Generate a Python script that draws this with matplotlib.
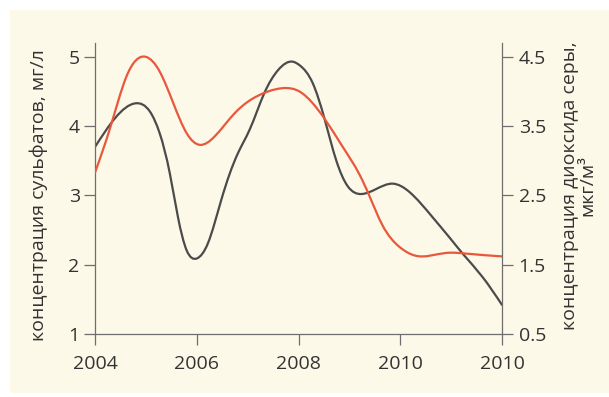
import matplotlib
matplotlib.use("Agg")
import numpy as np
import matplotlib.pyplot as plt
from matplotlib.path import Path
from matplotlib.patches import PathPatch, Rectangle

plt.rcParams['font.family'] = ['Open Sans', 'DejaVu Sans']

# Sulfate concentration in water, mg/L (left axis)
sulfate_years = [2004.0, 2004.8, 2005.08, 2005.27, 2005.47, 2005.63, 2005.8,
                 2006.0, 2006.22, 2006.48, 2006.81, 2007.04, 2007.33, 2007.6, 2007.89,
                 2008.02, 2008.28, 2008.51, 2008.74, 2008.97, 2009.23, 2009.52, 2009.85,
                 2010.18, 2010.63, 2010.96, 2011.25, 2011.62, 2012.0]
sulfate_values = [3.70, 4.33, 4.21, 3.90, 3.32, 2.69, 2.21,
                  2.09, 2.31, 2.93, 3.61, 3.95, 4.48, 4.81, 4.93,
                  4.88, 4.62, 4.11, 3.51, 3.13, 3.02, 3.09, 3.17,
                  3.05, 2.69, 2.40, 2.14, 1.82, 1.42]

# Sulfur dioxide concentration in air, ug/m3 (right axis)
so2_years = [2004.0, 2004.3, 2004.62, 2005.0, 2005.27, 2005.54, 2005.8, 2006.06,
             2006.35, 2006.75, 2007.0, 2007.4, 2007.73, 2008.02, 2008.28, 2008.51,
             2008.87, 2009.2, 2009.39, 2009.65, 2009.98, 2010.3, 2010.9, 2011.3, 2012.0]
so2_values = [2.83, 3.48, 4.22, 4.50, 4.29, 3.83, 3.40, 3.23,
              3.35, 3.69, 3.85, 4.00, 4.05, 4.00, 3.83, 3.61,
              3.20, 2.80, 2.50, 2.07, 1.76, 1.63, 1.67, 1.66, 1.62]

x_ticks = [2004, 2006, 2008, 2010, 2012]
x_tick_labels = ['2004', '2006', '2008', '2010', '2010']
left_ticks = [1, 2, 3, 4, 5]
right_ticks = [0.5, 1.5, 2.5, 3.5, 4.5]
right_tick_labels = ['0.5', '1.5', '2.5', '3.5', '4.5']

PANEL = '#fcf9e8'
AXIS = '#6e6e6e'
TEXT = '#333333'
DARK = '#4b4b4b'
RED = '#e9573c'


def smooth_path(xs, ys):
    """Natural cubic spline y(x) through the points, written as Bezier segments."""
    x = np.asarray(xs, float)
    y = np.asarray(ys, float)
    n = len(x)
    h = np.diff(x)
    d = np.diff(y) / h
    # second derivatives with natural end conditions
    A = np.zeros((n, n))
    r = np.zeros(n)
    A[0, 0] = A[-1, -1] = 1.0
    for i in range(1, n - 1):
        A[i, i - 1] = h[i - 1]
        A[i, i] = 2.0 * (h[i - 1] + h[i])
        A[i, i + 1] = h[i]
        r[i] = 6.0 * (d[i] - d[i - 1])
    M = np.linalg.solve(A, r)
    verts = [(x[0], y[0])]
    codes = [Path.MOVETO]
    for i in range(n - 1):
        s0 = d[i] - h[i] * (2 * M[i] + M[i + 1]) / 6.0
        s1 = d[i] + h[i] * (M[i] + 2 * M[i + 1]) / 6.0
        verts += [(x[i] + h[i] / 3.0, y[i] + s0 * h[i] / 3.0),
                  (x[i + 1] - h[i] / 3.0, y[i + 1] - s1 * h[i] / 3.0),
                  (x[i + 1], y[i + 1])]
        codes += [Path.CURVE4] * 3
    return Path(verts, codes)


fig = plt.figure(figsize=(6.09, 3.97), dpi=100, facecolor='white')
fig.patches.append(Rectangle((10 / 609, 4 / 397), 599 / 609, 383 / 397,
                             transform=fig.transFigure, facecolor=PANEL,
                             edgecolor='none', zorder=-10))

ax = fig.add_axes([95 / 609, 63 / 397, 407 / 609, 291 / 397])
ax.set_facecolor('none')
ax2 = ax.twinx()
ax2.set_facecolor('none')

ax.set_xlim(2004, 2012)
ax.set_ylim(1, 5.2)
ax2.set_ylim(0.5, 4.7)

ax.add_patch(PathPatch(smooth_path(sulfate_years, sulfate_values), facecolor='none',
                       edgecolor=DARK, lw=1.6, capstyle='round', joinstyle='round'))
ax2.add_patch(PathPatch(smooth_path(so2_years, so2_values), facecolor='none',
                        edgecolor=RED, lw=1.6, capstyle='round', joinstyle='round'))

for a in (ax, ax2):
    for s in a.spines.values():
        s.set_color(AXIS)
        s.set_linewidth(0.9)
    a.spines['top'].set_visible(False)

ax.spines['right'].set_visible(False)
ax2.spines['left'].set_visible(False)
ax2.spines['bottom'].set_visible(False)

ax.set_xticks(x_ticks)
ax.set_xticklabels(x_tick_labels)
ax.set_yticks(left_ticks)
ax.set_yticklabels([str(v) for v in left_ticks])
ax2.set_yticks(right_ticks)
ax2.set_yticklabels(right_tick_labels)

ax.tick_params(axis='x', direction='out', length=8, width=0.9, color=AXIS,
               labelsize=14, labelcolor=TEXT, pad=7)
ax.tick_params(axis='y', direction='out', length=8, width=0.9, color=AXIS,
               labelsize=14, labelcolor=TEXT, pad=3)
ax2.tick_params(axis='y', direction='out', length=8, width=0.9, color=AXIS,
                labelsize=14, labelcolor=TEXT, pad=4)

fig.text(39 / 609, 1 - 195 / 397, 'концентрация сульфатов, мг/л', rotation=90,
         ha='center', va='center', fontsize=14, color=TEXT)
fig.text(579 / 609, 1 - 186 / 397, 'концентрация диоксида серы,\nмкг/м³', rotation=90,
         ha='center', va='center', fontsize=14, color=TEXT, linespacing=0.95,
         multialignment='center')

fig.savefig('out.png', dpi=100, facecolor='white')
